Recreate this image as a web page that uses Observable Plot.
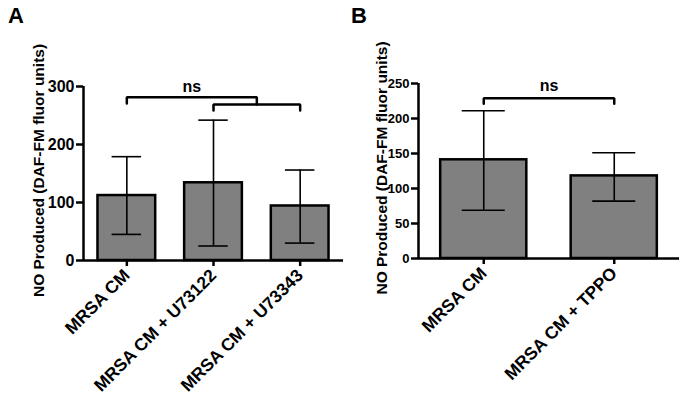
<!DOCTYPE html>
<html><head><meta charset="utf-8">
<script src="https://cdn.jsdelivr.net/npm/d3@7"></script>
<script src="https://cdn.jsdelivr.net/npm/@observablehq/plot@0.6"></script>
<style>
body{margin:0;background:#fff;}
#wrap{display:flex;width:688px;height:400px;}
.panel{position:relative;width:344px;height:400px;}
.letter{position:absolute;font:bold 22px "Liberation Sans",Arial,sans-serif;line-height:22px;}
</style></head><body><div id="wrap"></div>
<script>
// Panel A
const groupsA = ["MRSA CM", "MRSA CM + U73122", "MRSA CM + U73343"];
const meansA = [112, 134, 94];
const lowA = [45, 25, 30];
const highA = [179, 242, 156];
const ticksA = [0, 100, 200, 300];
// Panel B
const groupsB = ["MRSA CM", "MRSA CM + TPPO"];
const meansB = [141, 118];
const lowB = [69, 82];
const highB = [211, 151];
const ticksB = [0, 50, 100, 150, 200, 250];
const yLabel = "NO Produced (DAF-FM fluor units)";
const sigLabel = "ns";

const FONT = "Liberation Sans, Arial, Helvetica, sans-serif";

function panel(o) {
  const n = o.groups.length;
  const rows = o.groups.map((g, i) => ({i, g, mean: o.means[i], lo: o.low[i], hi: o.high[i]}));
  const marks = [
    Plot.rectY(rows, {x1: d => d.i - o.barHalf, x2: d => d.i + o.barHalf, y1: 0, y2: "mean",
      fill: "#808080", stroke: "black", strokeWidth: 2.5}),
    Plot.ruleX(rows, {x: "i", y1: "lo", y2: "hi", stroke: "black", strokeWidth: 1.6}),
    Plot.ruleY(rows, {y: "hi", x1: d => d.i - o.capHalf, x2: d => d.i + o.capHalf, stroke: "black", strokeWidth: 1.6}),
    Plot.ruleY(rows, {y: "lo", x1: d => d.i - o.capHalf, x2: d => d.i + o.capHalf, stroke: "black", strokeWidth: 1.6}),
    Plot.ruleY([0], {stroke: "black", strokeWidth: 2.5}),
    Plot.ruleX([-0.5], {y1: 0, y2: o.yMax, stroke: "black", strokeWidth: 2.5}),
    Plot.axisY({ticks: o.ticks, tickSize: 7, tickPadding: 2, strokeWidth: 2.5, fontSize: o.tickFont, fontWeight: "bold", label: null}),
    Plot.axisX({ticks: d3.range(n), tickFormat: i => o.groups[i], tickRotate: -45, tickSize: 6, tickPadding: 6,
      strokeWidth: 2.5, fontSize: 17.5, fontWeight: "bold", label: null}),
    Plot.text([yLabel], {frameAnchor: "left", textAnchor: "middle", rotate: -90, dx: o.labelDx, dy: -3, fontSize: 15.5, fontWeight: "bold"}),
    ...o.brackets.map(b => Plot.line(b, {x: "x", y: "y", stroke: "black", strokeWidth: 2.5, strokeLinejoin: "miter"})),
    Plot.text([o.sig], {x: "x", y: "y", text: "t", fontSize: 16, fontWeight: "bold"})
  ];
  return Plot.plot({
    width: 344, height: 400,
    marginLeft: o.mL, marginRight: o.mR, marginTop: o.mT, marginBottom: o.mB,
    x: {domain: [-0.5, n - 0.5]},
    y: {domain: [0, o.yMax]},
    style: {fontFamily: FONT, fontWeight: "bold", color: "black", background: "white", overflow: "visible"},
    marks
  });
}

const plotA = panel({
  groups: groupsA, means: meansA, low: lowA, high: highA, ticks: ticksA, yMax: 300,
  mL: 83, mR: 1, mT: 86, mB: 140, tickFont: 16, barHalf: 0.333, capHalf: 0.17, labelDx: -44,
  brackets: [
    [{x: 0, y: 270.5}, {x: 0, y: 281.5}, {x: 1.5, y: 281.5}, {x: 1.5, y: 269}],
    [{x: 1, y: 258.5}, {x: 1, y: 269}, {x: 2, y: 269}, {x: 2, y: 258.5}]
  ],
  sig: {x: 0.75, y: 300, t: sigLabel}
});
const plotB = panel({
  groups: groupsB, means: meansB, low: lowB, high: highB, ticks: ticksB, yMax: 250,
  mL: 74, mR: 9, mT: 83, mB: 142, tickFont: 13, barHalf: 0.33, capHalf: 0.165, labelDx: -36,
  brackets: [
    [{x: 0, y: 221}, {x: 0, y: 229}, {x: 1, y: 229}, {x: 1, y: 221}]
  ],
  sig: {x: 0.5, y: 246, t: sigLabel}
});

const wrap = document.getElementById("wrap");
[[plotA, "A", 8], [plotB, "B", 7]].forEach(([p, letter, left]) => {
  const div = document.createElement("div");
  div.className = "panel";
  div.appendChild(p);
  const l = document.createElement("div");
  l.className = "letter";
  l.textContent = letter;
  l.style.left = left + "px";
  l.style.top = "5px";
  div.appendChild(l);
  wrap.appendChild(div);
});
</script></body></html>
